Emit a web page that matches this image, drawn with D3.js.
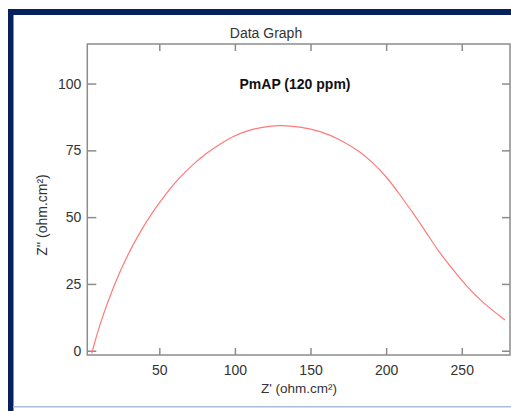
<!DOCTYPE html>
<html>
<head>
<meta charset="utf-8">
<script src="https://cdn.jsdelivr.net/npm/d3@7"></script>
<style>
  body { margin: 0; background: #fff; }
  svg { display: block; font-family: "Liberation Sans", Arial, sans-serif; }
</style>
</head>
<body>
<div id="chart"></div>
<script>
const zReal = [5.3, 10.8, 19.6, 28.4, 37.2, 46, 54.9, 63.7, 72.5, 81.3, 90.1, 99, 107.8, 116.6,
  129.8, 143, 156.3, 169.5, 182.7, 189.3, 200.4, 209.2, 218, 226.9, 235.6, 244.5, 253.3, 264.3, 278.6];
const zImag = [-1.0, 10.3, 24, 35.2, 44.4, 52.3, 59.2, 65.0, 69.9, 74.0, 77.4, 80.3, 82.3, 83.6,
  84.5, 83.8, 82.3, 79.1, 74.5, 71.4, 65.1, 58.3, 51.4, 43.9, 36.4, 30.2, 24, 17.7, 11.5];
const xTicks = [50, 100, 150, 200, 250];
const yTicks = [0, 25, 50, 75, 100];

const width = 511, height = 411;
const plot = { left: 87.3, right: 510, top: 44, bottom: 355 };
const axisGray = "#8c8c8c";

const svg = d3.select("#chart").append("svg")
    .attr("width", width)
    .attr("height", height);

// outer frame: navy band on top and left, thin light line at the bottom
svg.append("rect").attr("x", 8).attr("y", 9).attr("width", width - 8).attr("height", 6).attr("fill", "#06215e");
svg.append("rect").attr("x", 8).attr("y", 9).attr("width", 5.5).attr("height", height - 9).attr("fill", "#06215e");
svg.append("rect").attr("x", 13).attr("y", 406).attr("width", width - 13).attr("height", 1.5).attr("fill", "#a9bcd8");

const x = d3.scaleLinear().domain([2.4, 281.9]).range([plot.left, plot.right]);
const y = d3.scaleLinear().domain([-1.6, 114.8]).range([plot.bottom, plot.top]);

svg.append("clipPath").attr("id", "plot-clip")
  .append("rect")
    .attr("x", plot.left).attr("y", plot.top)
    .attr("width", plot.right - plot.left).attr("height", plot.bottom - plot.top);

const styleAxis = (g) => {
    g.select(".domain").remove();
    g.selectAll(".tick line").attr("stroke", axisGray).attr("stroke-width", 1.5);
    g.selectAll(".tick text").attr("fill", "#333").style("font-size", "14px");
};

svg.append("g")
    .attr("transform", `translate(0,${plot.bottom})`)
    .call(d3.axisBottom(x).tickValues(xTicks).tickSize(-7).tickPadding(10))
    .call(styleAxis);

svg.append("g")
    .attr("transform", `translate(0,${plot.top})`)
    .call(d3.axisTop(x).tickValues(xTicks).tickSize(-7).tickFormat(""))
    .call(styleAxis);

svg.append("g")
    .attr("transform", `translate(${plot.left},0)`)
    .call(d3.axisLeft(y).tickValues(yTicks).tickSize(-9).tickPadding(6))
    .call(styleAxis);

svg.append("g")
    .attr("transform", `translate(${plot.right},0)`)
    .call(d3.axisRight(y).tickValues(yTicks).tickSize(-8).tickFormat(""))
    .call(styleAxis);

// plot border
svg.append("rect")
    .attr("x", plot.left).attr("y", plot.top)
    .attr("width", plot.right - plot.left).attr("height", plot.bottom - plot.top)
    .attr("fill", "none")
    .attr("stroke", axisGray)
    .attr("stroke-width", 1.5);

const line = d3.line()
    .x((d, i) => x(zReal[i]))
    .y((d, i) => y(zImag[i]))
    .curve(d3.curveBasis);

svg.append("path")
    .datum(zReal)
    .attr("clip-path", "url(#plot-clip)")
    .attr("d", line)
    .attr("fill", "none")
    .attr("stroke", "#ff7a7a")
    .attr("stroke-width", 1.2);

svg.append("text")
    .attr("x", 266).attr("y", 38)
    .attr("text-anchor", "middle")
    .attr("fill", "#333")
    .style("font-size", "14px")
    .text("Data Graph");

svg.append("text")
    .attr("x", 295).attr("y", 89)
    .attr("text-anchor", "middle")
    .attr("fill", "#111")
    .style("font-size", "14px")
    .style("font-weight", "bold")
    .text("PmAP (120 ppm)");

svg.append("text")
    .attr("x", 299).attr("y", 393)
    .attr("text-anchor", "middle")
    .attr("fill", "#333")
    .style("font-size", "13.5px")
    .text("Z' (ohm.cm²)");

svg.append("text")
    .attr("transform", "translate(47,215) rotate(-90)")
    .attr("text-anchor", "middle")
    .attr("fill", "#333")
    .style("font-size", "14px")
    .text("Z'' (ohm.cm²)");
</script>
</body>
</html>
